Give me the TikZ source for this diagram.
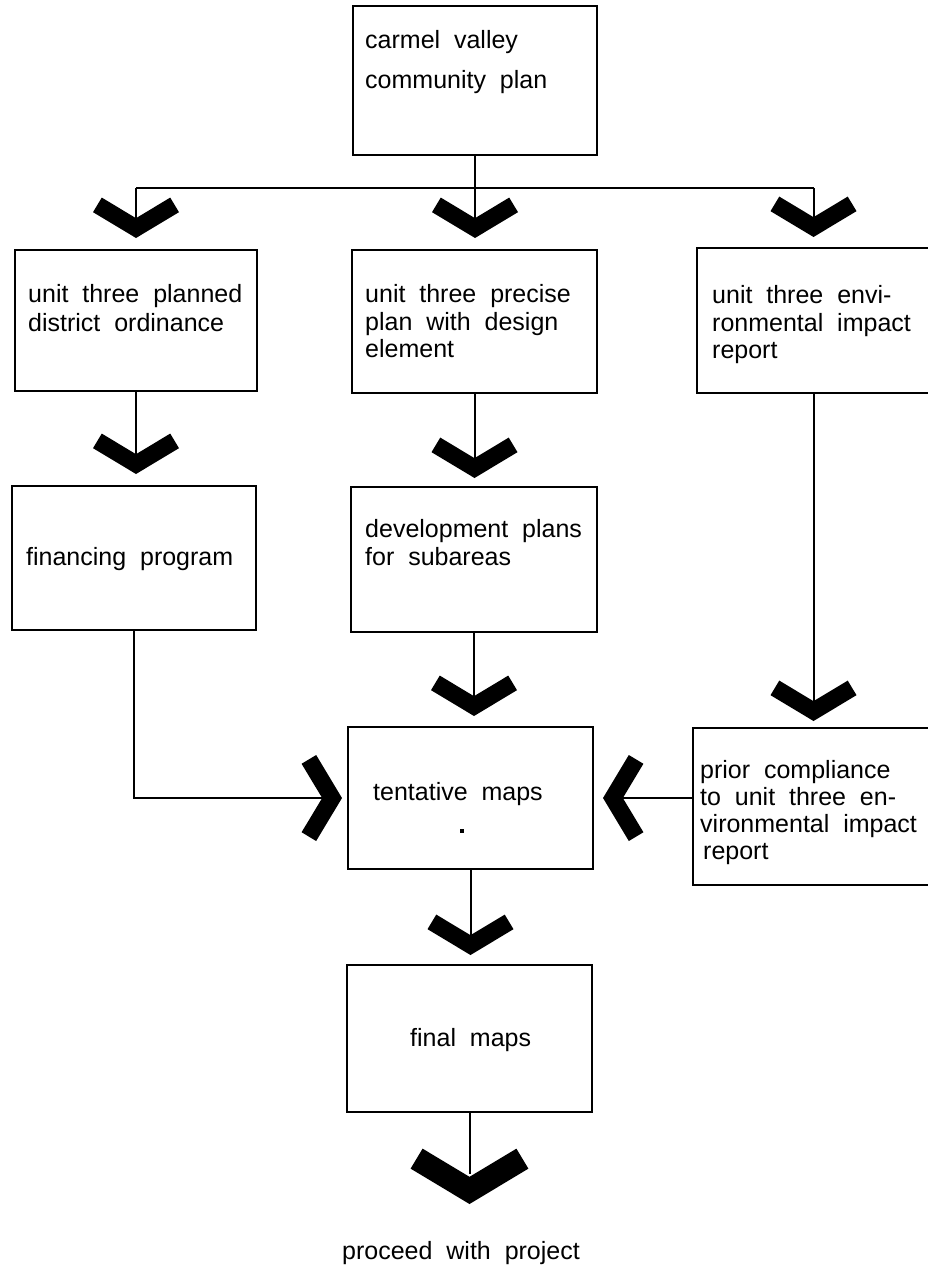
\documentclass[tikz,border=0pt]{standalone}
\usepackage{fontspec}
\setmainfont{Liberation Sans}[WordSpace=2]
\usetikzlibrary{calc}
\tikzset{
  box/.style={draw, line width=2pt, inner sep=0pt},
  conn/.style={line width=2pt},
  txt/.style={anchor=base west, inner sep=0pt, font=\fontsize{25}{30}\selectfont},
  chev/.pic={\fill (0,0) -- (43.0,-25.83) -- (34.24,-40.41) -- (0,-19.84) -- (-34.24,-40.41) -- (-43.0,-25.83) -- cycle;}
}
\begin{document}
\begin{tikzpicture}[x=1pt,y=-1pt]
\useasboundingbox (0,0) rectangle (927,1266);
\fill[white] (0,0) rectangle (927,1266);

% boxes
\node[box, minimum width=244pt, minimum height=149pt] (top) at (475,80.5) {};
\node[box, minimum width=242pt, minimum height=141pt] (r2L) at (136,320.5) {};
\node[box, minimum width=245pt, minimum height=143pt] (r2M) at (474.5,321.5) {};
\node[box, minimum width=233pt, minimum height=145pt] (r2R) at (813.5,320.5) {};
\node[box, minimum width=244pt, minimum height=144pt] (finL) at (134,558) {};
\node[box, minimum width=246pt, minimum height=145pt] (dev) at (474,559.5) {};
\node[box, minimum width=245pt, minimum height=142pt] (tent) at (470.5,798) {};
\node[box, minimum width=237pt, minimum height=157pt] (prior) at (811.5,806.5) {};
\node[box, minimum width=245pt, minimum height=147pt] (final) at (469.5,1038.5) {};

% texts
\node[txt] (t1a) at (365,48) {carmel valley};
\node[txt] (t1b) at (365,88) {community plan};
\node[txt] (t2a) at (28,302) {unit three planned};
\node[txt] (t2b) at (28,331) {district ordinance};
\node[txt] (t3a) at (365,302) {unit three precise};
\node[txt] (t3b) at (365,330) {plan with design};
\node[txt] (t3c) at (365,357) {element};
\node[txt] (t4a) at (712,303) {unit three envi-};
\node[txt] (t4b) at (712,331) {ronmental impact};
\node[txt] (t4c) at (712,358) {report};
\node[txt] (t5a) at (26,565) {financing program};
\node[txt] (t6a) at (365,537) {development plans};
\node[txt] (t6b) at (365,565) {for subareas};
\node[txt] (t7a) at (373,800) {tentative maps};
\node[txt] (t8a) at (700,778) {prior compliance};
\node[txt] (t8b) at (700,805) {to unit three en-};
\node[txt] (t8c) at (700,832) {vironmental impact};
\node[txt] (t8d) at (703,859) {report};
\node[txt] (t9a) at (410,1046) {final maps};
\node[txt] (proceed) at (342,1259) {proceed with project};
\fill (460,829) rectangle (464,833);

% top bus
\coordinate (busM) at (475,188);
\coordinate (busL) at (136,188);
\coordinate (busR) at (813.5,188);
\draw[conn] (top.south) -- (busM);
\draw[conn] (busL) -- (busR);
\draw[conn, shorten >=20pt] (busL) -- (r2L.north);
\draw[conn, shorten >=20pt] (busM) -- (busM |- r2M.north);
\draw[conn, shorten >=20pt] (busR) -- (r2R.north);
\pic at ($(r2L.north)+(0,-11)$) {chev};
\pic at ($(busM |- r2M.north)+(0,-11)$) {chev};
\pic at ($(r2R.north)+(0,-10)$) {chev};

% column connectors
\draw[conn, shorten >=20pt] (r2L.south) -- (r2L.south |- finL.north);
\pic at ($(r2L.south |- finL.north)+(0,-11)$) {chev};
\draw[conn, shorten >=20pt] (r2M.south) -- (r2M.south |- dev.north);
\pic at ($(r2M.south |- dev.north)+(0,-8)$) {chev};
\draw[conn, shorten >=20pt] (dev.south) -- (dev.south |- tent.north);
\pic at ($(dev.south |- tent.north)+(0,-10)$) {chev};
\draw[conn, shorten >=20pt] (r2R.south) -- (r2R.south |- prior.north);
\pic at ($(r2R.south |- prior.north)+(0,-6)$) {chev};
\draw[conn, shorten >=20pt] (tent.south) -- (tent.south |- final.north);
\pic at ($(tent.south |- final.north)+(0,-9)$) {chev};

% side connectors into tentative maps
\draw[conn, shorten >=20pt] (finL.south) |- (tent.west);
\pic[rotate=90] at ($(tent.west)+(-5,0)$) {chev};
\draw[conn, shorten >=25pt] (prior.west |- tent.east) -- (tent.east);
\pic[rotate=-90] at ($(tent.east)+(9,0)$) {chev};

% final arrow
\coordinate (ptip) at ($(final.south)+(0,91)$);
\draw[conn, shorten >=30pt] (final.south) -- (ptip);
\pic[scale=1.37] at (ptip) {chev};
\end{tikzpicture}
\end{document}
